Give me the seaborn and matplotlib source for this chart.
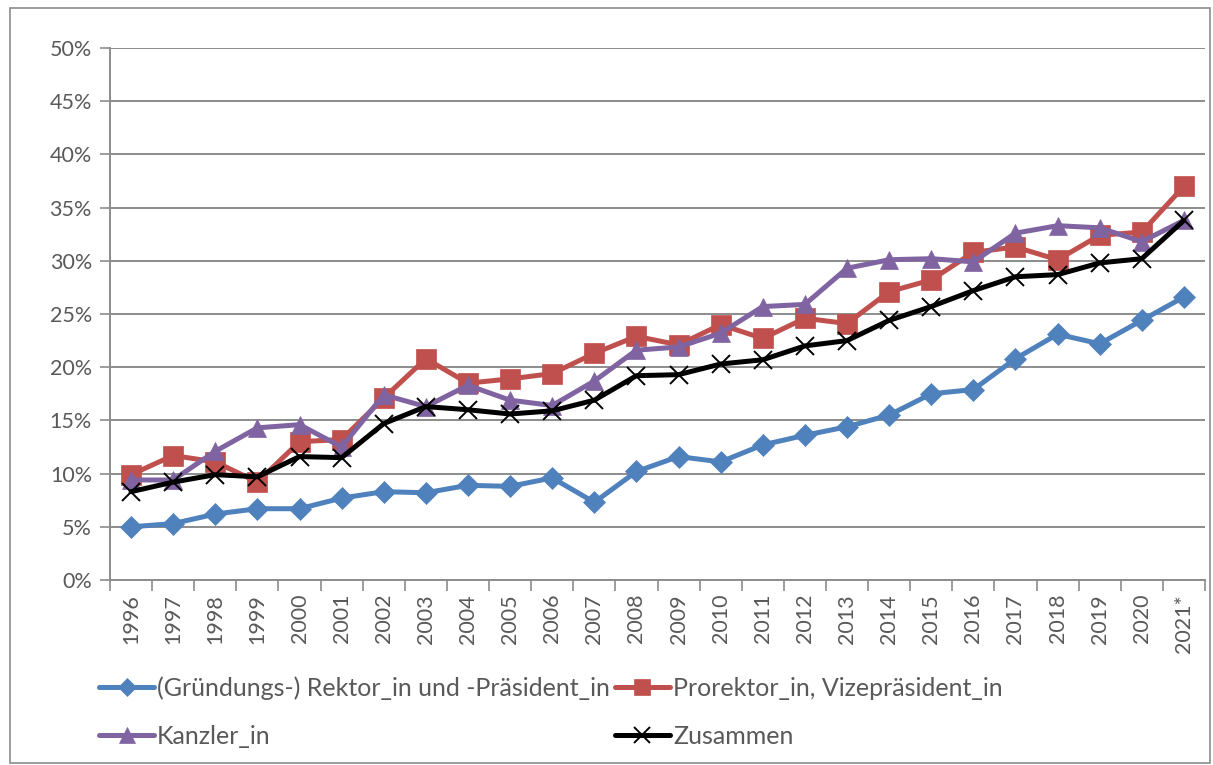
import numpy as np
import pandas as pd
import matplotlib
matplotlib.use("Agg")
import matplotlib.pyplot as plt
from matplotlib.lines import Line2D
from matplotlib.patches import Rectangle
from matplotlib.ticker import FixedLocator, FuncFormatter
import seaborn as sns

# -------------------------------
# Data (share of women, in %)
# -------------------------------
years = ["1996", "1997", "1998", "1999", "2000", "2001", "2002", "2003", "2004",
         "2005", "2006", "2007", "2008", "2009", "2010", "2011", "2012", "2013",
         "2014", "2015", "2016", "2017", "2018", "2019", "2020", "2021*"]

rektor = [5.0, 5.3, 6.2, 6.7, 6.7, 7.7, 8.3, 8.2, 8.9, 8.8, 9.6, 7.3, 10.2,
          11.6, 11.1, 12.7, 13.6, 14.4, 15.5, 17.5, 17.9, 20.8, 23.1, 22.2,
          24.4, 26.6]
prorektor = [9.9, 11.7, 11.1, 9.2, 13.0, 13.2, 17.1, 20.8, 18.5, 18.9, 19.4,
             21.3, 22.9, 22.1, 24.0, 22.7, 24.6, 24.1, 27.1, 28.2, 30.8, 31.3,
             30.1, 32.4, 32.7, 37.0]
kanzler = [9.4, 9.4, 12.1, 14.3, 14.6, 12.5, 17.4, 16.3, 18.3, 16.9, 16.4,
           18.7, 21.6, 21.9, 23.2, 25.7, 25.9, 29.3, 30.1, 30.2, 29.9, 32.6,
           33.3, 33.1, 31.8, 33.8]
zusammen = [8.3, 9.2, 9.9, 9.7, 11.6, 11.5, 14.7, 16.3, 16.0, 15.6, 15.9,
            16.9, 19.2, 19.3, 20.3, 20.7, 22.0, 22.5, 24.4, 25.7, 27.2, 28.5,
            28.7, 29.8, 30.2, 33.8]

labels = ["(Gründungs-) Rektor_in und -Präsident_in",
          "Prorektor_in, Vizepräsident_in",
          "Kanzler_in",
          "Zusammen"]

df = pd.DataFrame({"pos": np.arange(len(years)),
                   labels[0]: rektor, labels[1]: prorektor,
                   labels[2]: kanzler, labels[3]: zusammen})

# series styling
colors = ["#4F81BD", "#C0504D", "#8064A2", "#000000"]
markers = ["D", "s", "^", "x"]
msizes = [11, 14, 13.5, 13]

text_col = "#595959"
grid_col = "#8C8C8C"

sns.set_style("white")
plt.rcParams["font.family"] = ["Lato", "DejaVu Sans"]
plt.rcParams["font.size"] = 15.5

fig = plt.figure(figsize=(12.13, 7.65), dpi=100)
ax = fig.add_axes([110 / 1213, 1 - 580 / 765, 1095 / 1213, 532 / 765])

# outer chart frame
fig.patches.append(Rectangle((10 / 1213, 2 / 765), 1200 / 1213, 755 / 765,
                             transform=fig.transFigure, fill=False,
                             edgecolor="#8C8C8C", linewidth=1.2))

for lab, c, m, ms in zip(labels, colors, markers, msizes):
    sns.lineplot(data=df, x="pos", y=lab, ax=ax, color=c, linewidth=3.6,
                 marker=m, markersize=ms, markeredgecolor=c,
                 markeredgewidth=1.4 if m == "x" else 0.5, legend=False)

ax.set_xlim(-0.5, len(years) - 0.5)
ax.set_ylim(0, 50)
ax.set_xlabel("")
ax.set_ylabel("")

# y axis
ax.set_yticks(np.arange(0, 51, 5))
ax.yaxis.set_major_formatter(FuncFormatter(lambda v, p: f"{v:.0f}%"))
ax.yaxis.grid(True, color=grid_col, linewidth=1.4)
ax.tick_params(axis="y", which="major", left=True, length=7, width=1.2,
               color=grid_col, labelcolor=text_col, pad=6)

# x axis: tick marks between categories, labels at categories
ax.set_xticks(np.arange(len(years)))
ax.set_xticklabels(years, rotation=90)
ax.xaxis.set_minor_locator(FixedLocator(np.arange(len(years) + 1) - 0.5))
ax.tick_params(axis="x", which="major", bottom=False, length=0,
               labelcolor=text_col, pad=10)
ax.tick_params(axis="x", which="minor", bottom=True, length=8, width=1.2,
               color=grid_col)

for side in ["top", "right"]:
    ax.spines[side].set_visible(False)
for side in ["left", "bottom"]:
    ax.spines[side].set_color(grid_col)
    ax.spines[side].set_linewidth(1.4)

# legend (row-major order like the original)
handles = [Line2D([], [], color=c, lw=3.6, marker=m, markersize=ms * 0.85,
                  markeredgecolor=c, markeredgewidth=1.4 if m == "x" else 0.5)
           for c, m, ms in zip(colors, markers, msizes)]
order = [0, 2, 1, 3]
leg = fig.legend([handles[i] for i in order], [labels[i] for i in order],
                 ncol=2, loc="upper left", bbox_to_anchor=(99 / 1213, 1 - 676 / 765),
                 frameon=False, fontsize=18, handlelength=2.2, handletextpad=0.12,
                 columnspacing=0.2, labelspacing=1.02, borderaxespad=0,
                 borderpad=0)
for t in leg.get_texts():
    t.set_color(text_col)

fig.savefig("out.png", dpi=100)
